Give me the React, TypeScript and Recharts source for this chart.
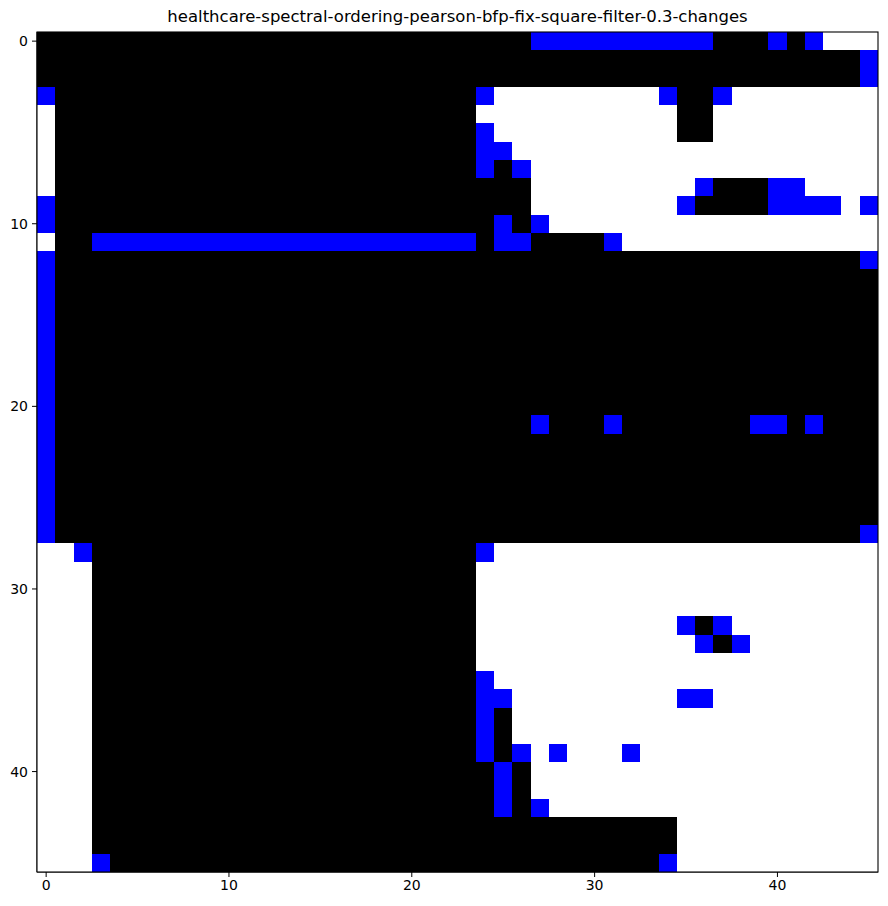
import { Scatter, ScatterChart, XAxis, YAxis } from "recharts";

const TITLE =
  "healthcare-spectral-ordering-pearson-bfp-fix-square-filter-0.3-changes";
const N = 46;
const TICKS = [0, 10, 20, 30, 40];
const COLORS: Record<string, string> = {
  K: "#000000",
  W: "#ffffff",
  B: "#0000ff",
};

// one string per matrix row, 46 cells, spaced in groups of ten columns
// K = black, W = white, B = blue (changed)
const ROWS = [
  "KKKKKKKKKK KKKKKKKKKK KKKKKKKBBB BBBBBBBKKK BKBWWW", // 0
  "KKKKKKKKKK KKKKKKKKKK KKKKKKKKKK KKKKKKKKKK KKKKKB",
  "KKKKKKKKKK KKKKKKKKKK KKKKKKKKKK KKKKKKKKKK KKKKKB",
  "BKKKKKKKKK KKKKKKKKKK KKKKBWWWWW WWWWBKKBWW WWWWWW",
  "WKKKKKKKKK KKKKKKKKKK KKKKWWWWWW WWWWWKKWWW WWWWWW",
  "WKKKKKKKKK KKKKKKKKKK KKKKBWWWWW WWWWWKKWWW WWWWWW", // 5
  "WKKKKKKKKK KKKKKKKKKK KKKKBBWWWW WWWWWWWWWW WWWWWW",
  "WKKKKKKKKK KKKKKKKKKK KKKKBKBWWW WWWWWWWWWW WWWWWW",
  "WKKKKKKKKK KKKKKKKKKK KKKKKKKWWW WWWWWWBKKK BBWWWW",
  "BKKKKKKKKK KKKKKKKKKK KKKKKKKWWW WWWWWBKKKK BBBBWB",
  "BKKKKKKKKK KKKKKKKKKK KKKKKBKBWW WWWWWWWWWW WWWWWW", // 10
  "WKKBBBBBBB BBBBBBBBBB BBBBKBBKKK KBWWWWWWWW WWWWWW",
  "BKKKKKKKKK KKKKKKKKKK KKKKKKKKKK KKKKKKKKKK KKKKKB",
  "BKKKKKKKKK KKKKKKKKKK KKKKKKKKKK KKKKKKKKKK KKKKKK",
  "BKKKKKKKKK KKKKKKKKKK KKKKKKKKKK KKKKKKKKKK KKKKKK",
  "BKKKKKKKKK KKKKKKKKKK KKKKKKKKKK KKKKKKKKKK KKKKKK", // 15
  "BKKKKKKKKK KKKKKKKKKK KKKKKKKKKK KKKKKKKKKK KKKKKK",
  "BKKKKKKKKK KKKKKKKKKK KKKKKKKKKK KKKKKKKKKK KKKKKK",
  "BKKKKKKKKK KKKKKKKKKK KKKKKKKKKK KKKKKKKKKK KKKKKK",
  "BKKKKKKKKK KKKKKKKKKK KKKKKKKKKK KKKKKKKKKK KKKKKK",
  "BKKKKKKKKK KKKKKKKKKK KKKKKKKKKK KKKKKKKKKK KKKKKK", // 20
  "BKKKKKKKKK KKKKKKKKKK KKKKKKKBKK KBKKKKKKKB BKBKKK",
  "BKKKKKKKKK KKKKKKKKKK KKKKKKKKKK KKKKKKKKKK KKKKKK",
  "BKKKKKKKKK KKKKKKKKKK KKKKKKKKKK KKKKKKKKKK KKKKKK",
  "BKKKKKKKKK KKKKKKKKKK KKKKKKKKKK KKKKKKKKKK KKKKKK",
  "BKKKKKKKKK KKKKKKKKKK KKKKKKKKKK KKKKKKKKKK KKKKKK", // 25
  "BKKKKKKKKK KKKKKKKKKK KKKKKKKKKK KKKKKKKKKK KKKKKK",
  "BKKKKKKKKK KKKKKKKKKK KKKKKKKKKK KKKKKKKKKK KKKKKB",
  "WWBKKKKKKK KKKKKKKKKK KKKKBWWWWW WWWWWWWWWW WWWWWW",
  "WWWKKKKKKK KKKKKKKKKK KKKKWWWWWW WWWWWWWWWW WWWWWW",
  "WWWKKKKKKK KKKKKKKKKK KKKKWWWWWW WWWWWWWWWW WWWWWW", // 30
  "WWWKKKKKKK KKKKKKKKKK KKKKWWWWWW WWWWWWWWWW WWWWWW",
  "WWWKKKKKKK KKKKKKKKKK KKKKWWWWWW WWWWWBKBWW WWWWWW",
  "WWWKKKKKKK KKKKKKKKKK KKKKWWWWWW WWWWWWBKBW WWWWWW",
  "WWWKKKKKKK KKKKKKKKKK KKKKWWWWWW WWWWWWWWWW WWWWWW",
  "WWWKKKKKKK KKKKKKKKKK KKKKBWWWWW WWWWWWWWWW WWWWWW", // 35
  "WWWKKKKKKK KKKKKKKKKK KKKKBBWWWW WWWWWBBWWW WWWWWW",
  "WWWKKKKKKK KKKKKKKKKK KKKKBKWWWW WWWWWWWWWW WWWWWW",
  "WWWKKKKKKK KKKKKKKKKK KKKKBKWWWW WWWWWWWWWW WWWWWW",
  "WWWKKKKKKK KKKKKKKKKK KKKKBKBWBW WWBWWWWWWW WWWWWW",
  "WWWKKKKKKK KKKKKKKKKK KKKKKBKWWW WWWWWWWWWW WWWWWW", // 40
  "WWWKKKKKKK KKKKKKKKKK KKKKKBKWWW WWWWWWWWWW WWWWWW",
  "WWWKKKKKKK KKKKKKKKKK KKKKKBKBWW WWWWWWWWWW WWWWWW",
  "WWWKKKKKKK KKKKKKKKKK KKKKKKKKKK KKKKKWWWWW WWWWWW",
  "WWWKKKKKKK KKKKKKKKKK KKKKKKKKKK KKKKKWWWWW WWWWWW",
  "WWWBKKKKKK KKKKKKKKKK KKKKKKKKKK KKKKBWWWWW WWWWWW", // 45
];

const cells = ROWS.flatMap((row, y) =>
  row
    .replace(/ /g, "")
    .split("")
    .map((c, x) => ({ x, y, c }))
);

const W = 888;
const H = 906;
const MARGIN = { top: 32, right: 10, bottom: 0, left: 0 };
const Y_AXIS_W = 37;
const X_AXIS_H = 34;
const PLOT_W = W - MARGIN.left - MARGIN.right - Y_AXIS_W;
const PLOT_H = H - MARGIN.top - MARGIN.bottom - X_AXIS_H;
const CW = PLOT_W / N;
const CH = PLOT_H / N;

const tickStyle = { fill: "#000", fontSize: 14, fontFamily: "DejaVu Sans" };

function CellShape(props: any) {
  const { cx, cy, payload } = props;
  // snap edges to whole pixels so cells tile without seams
  const x0 = Math.round(cx - CW / 2);
  const x1 = Math.round(cx + CW / 2);
  const y0 = Math.round(cy - CH / 2);
  const y1 = Math.round(cy + CH / 2);
  return (
    <rect
      x={x0}
      y={y0}
      width={x1 - x0}
      height={y1 - y0}
      fill={COLORS[payload.c]}
      shapeRendering="crispEdges"
    />
  );
}

export default function App() {
  const left = MARGIN.left + Y_AXIS_W;
  return (
    <div
      style={{
        position: "absolute",
        left: 0,
        top: 0,
        width: W,
        height: H,
        background: "#fff",
      }}
    >
      <div
        style={{
          position: "absolute",
          top: 7,
          left,
          width: PLOT_W,
          textAlign: "center",
          fontFamily: "DejaVu Sans",
          fontSize: 16.5,
          color: "#000",
        }}
      >
        {TITLE}
      </div>
      <ScatterChart width={W} height={H} margin={MARGIN}>
        <XAxis
          type="number"
          dataKey="x"
          domain={[-0.5, N - 0.5]}
          ticks={TICKS}
          allowDataOverflow
          height={X_AXIS_H}
          tickSize={5}
          tickMargin={3}
          tick={tickStyle}
          stroke="#000"
        />
        <YAxis
          type="number"
          dataKey="y"
          domain={[-0.5, N - 0.5]}
          reversed
          ticks={TICKS}
          allowDataOverflow
          width={Y_AXIS_W}
          tickSize={5}
          tickMargin={4}
          tick={tickStyle}
          stroke="#000"
        />
        <Scatter data={cells} shape={CellShape} isAnimationActive={false} />
      </ScatterChart>
      {/* plot frame drawn over the cells, like matplotlib's spines */}
      <svg
        width={W}
        height={H}
        style={{ position: "absolute", left: 0, top: 0, pointerEvents: "none" }}
      >
        <rect
          x={left}
          y={MARGIN.top}
          width={PLOT_W}
          height={PLOT_H}
          fill="none"
          stroke="#000"
          strokeWidth={1.1}
        />
      </svg>
    </div>
  );
}
